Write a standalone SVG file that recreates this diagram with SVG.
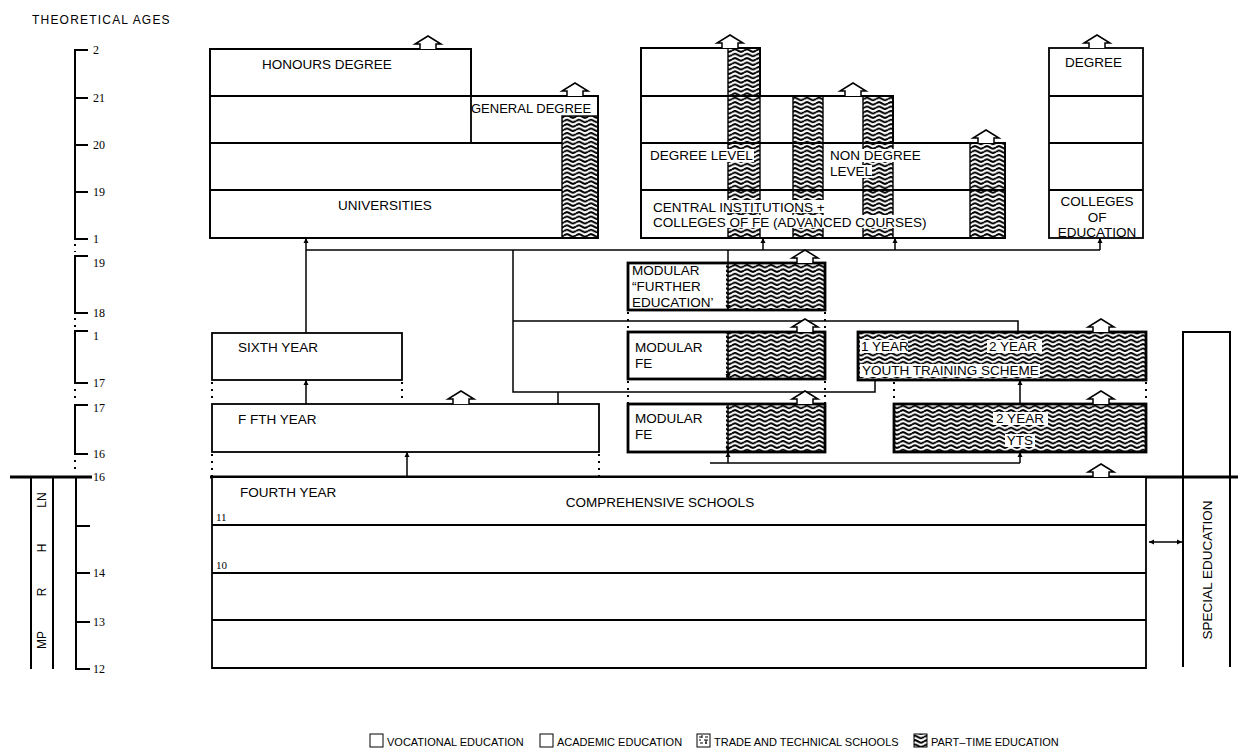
<svg xmlns="http://www.w3.org/2000/svg" xmlns:xlink="http://www.w3.org/1999/xlink" width="1238" height="748" viewBox="0 0 1238 748">
<style>
.b{fill:#fff;stroke:#000;stroke-width:1.8}
.bt{fill:#fff;stroke:#000;stroke-width:2.8}
.ln{stroke:#000;stroke-width:1.5;fill:none}
.lt{stroke:#000;stroke-width:2;fill:none}
.dt{stroke:#000;stroke-width:2;stroke-dasharray:2 5;fill:none}
.h{fill:url(#wave)}
.hc{fill:url(#wave);stroke:#000;stroke-width:1.4}
.t{font-family:"Liberation Sans",Arial,sans-serif;font-size:13.5px;fill:#000}
.s{font-family:"Liberation Sans",Arial,sans-serif;font-size:11px;fill:#000}
.lg{font-family:"Liberation Sans",Arial,sans-serif;font-size:11px;fill:#000}
.ax{font-family:"Liberation Serif","Times New Roman",serif;font-size:12px;fill:#000}
.wb{fill:#fff}
</style>
<defs>
<pattern id="wave" patternUnits="userSpaceOnUse" width="12" height="4.4">
<rect width="12" height="4.4" fill="#fff"/>
<path d="M0,2.2 C3,0.5 3,0.5 6,2.2 S9,3.9 12,2.2" stroke="#000" stroke-width="2" fill="none"/>
</pattern>
<marker id="ah" viewBox="0 0 10 10" refX="10" refY="5" markerWidth="5" markerHeight="6" orient="auto" markerUnits="userSpaceOnUse">
<path d="M0,0 L10,5 L0,10 z" fill="#000"/>
</marker>
<marker id="ahs" viewBox="0 0 10 10" refX="0" refY="5" markerWidth="5" markerHeight="6" orient="auto" markerUnits="userSpaceOnUse">
<path d="M10,0 L0,5 L10,10 z" fill="#000"/>
</marker>
<g id="ha"><path d="M-8,0 V-5 H-13 L0,-13 L13,-5 H8 V0" fill="#fff" stroke="#000" stroke-width="1.5"/></g>
</defs>
<rect width="1238" height="748" fill="#fff"/>

<g id="axis">
<text class="s" x="32" y="24" style="font-size:12px;letter-spacing:1.2px">THEORETICAL AGES</text>
<path class="lt" d="M88,50 H75 V239 H88 M75,98 H88 M75,145 H88 M75,192 H88"/>
<path class="lt" d="M88,256 H75 V313 H88"/>
<path class="lt" d="M88,331 H75 V383 H88"/>
<path class="lt" d="M88,405 H75 V454 H88"/>
<path class="dt" d="M75,244 V252 M75,318 V327 M75,389 V400 M75,460 V470"/>
<text class="ax" x="93" y="54">2</text>
<text class="ax" x="93" y="102">21</text>
<text class="ax" x="93" y="149">20</text>
<text class="ax" x="93" y="196">19</text>
<text class="ax" x="93" y="243">1</text>
<text class="ax" x="93" y="267">19</text>
<text class="ax" x="93" y="317">18</text>
<text class="ax" x="93" y="340">1</text>
<text class="ax" x="93" y="387">17</text>
<text class="ax" x="93" y="412">17</text>
<text class="ax" x="93" y="458">16</text>
<text class="ax" x="93" y="481">16</text>
<path d="M10,477 H92 M210,477 H1238" stroke="#000" stroke-width="3.2"/>
<path class="lt" d="M31,478 V669 M53,478 V669 M76,478 V669 H90 M76,526 H90 M76,573 H90 M76,622 H90"/>
<text class="ax" x="93" y="577">14</text>
<text class="ax" x="93" y="626">13</text>
<text class="ax" x="93" y="673">12</text>
<text class="s" transform="translate(46,500) rotate(-90)" text-anchor="middle" style="font-size:12px">LN</text>
<text class="s" transform="translate(46,548) rotate(-90)" text-anchor="middle" style="font-size:12px">H</text>
<text class="s" transform="translate(46,592) rotate(-90)" text-anchor="middle" style="font-size:12px">R</text>
<text class="s" transform="translate(46,640) rotate(-90)" text-anchor="middle" style="font-size:12px">MP</text>
</g>

<g id="universities">
<path class="b" d="M210,49 H471 V96 H598 V238 H210 Z"/>
<rect class="hc" x="562" y="116" width="36" height="122"/>
<path class="b" style="fill:none" d="M210,49 H471 V96 H598 V238 H210 Z M210,96 H471 M471,96 V143 M210,143 H562 M210,190 H562"/>
<text class="t" x="262" y="69">HONOURS DEGREE</text>
<text class="t" x="471" y="113" style="font-size:13px">GENERAL DEGREE</text>
<text class="t" x="385" y="210" text-anchor="middle">UNIVERSITIES</text>
</g>

<g id="central-institutions">
<path class="b" d="M641,48 H760 V96 H893 V143 H1005 V238 H641 Z"/>
<rect class="hc" x="728" y="48" width="32" height="190"/>
<rect class="hc" x="793" y="96" width="30" height="142"/>
<rect class="hc" x="863" y="96" width="30" height="142"/>
<rect class="hc" x="970" y="143" width="35" height="95"/>
<path class="b" style="fill:none" d="M641,48 H760 V96 H893 V143 H1005 V238 H641 Z M641,96 H760 M641,143 H893 M641,190 H1005"/>
<rect class="wb" x="648" y="149" width="106" height="13"/>
<rect class="wb" x="828" y="149" width="94" height="13"/>
<rect class="wb" x="828" y="165" width="44" height="13"/>
<rect class="wb" x="651" y="200" width="193" height="13"/>
<rect class="wb" x="651" y="215" width="292" height="13"/>
<text class="t" x="650" y="160">DEGREE LEVEL</text>
<text class="t" x="830" y="160">NON DEGREE</text>
<text class="t" x="830" y="176">LEVEL</text>
<text class="t" x="653" y="212">CENTRAL INSTITUTIONS +</text>
<text class="t" x="653" y="227">COLLEGES OF FE (ADVANCED COURSES)</text>
</g>

<g id="colleges-of-education">
<rect class="b" x="1049" y="48" width="94" height="190"/>
<path class="b" style="fill:none" d="M1049,96 H1143 M1049,143 H1143 M1049,190 H1143"/>
<text class="t" x="1065" y="67">DEGREE</text>
<text class="t" x="1097" y="206" text-anchor="middle">COLLEGES</text>
<text class="t" x="1097" y="222" text-anchor="middle">OF</text>
<text class="t" x="1097" y="237" text-anchor="middle">EDUCATION</text>
</g>

<g id="sixth-year">
<rect class="b" x="212" y="333" width="190" height="47"/>
<text class="t" x="238" y="352">SIXTH YEAR</text>
</g>

<g id="fifth-year">
<rect class="b" x="212" y="404" width="387" height="48"/>
<text class="t" x="238" y="424">F FTH YEAR</text>
</g>

<g id="modular-further">
<rect class="h" x="726" y="263" width="99" height="47"/>
<rect class="bt" style="fill:none" x="628" y="263" width="197" height="47"/>
<text class="t" x="632" y="275">MODULAR</text>
<text class="t" x="632" y="291">“FURTHER</text>
<text class="t" x="632" y="307">EDUCATION’</text>
</g>

<g id="modular-fe-1">
<rect class="h" x="726" y="332" width="99" height="47"/>
<rect class="bt" style="fill:none" x="628" y="332" width="197" height="47"/>
<text class="t" x="635" y="352">MODULAR</text>
<text class="t" x="635" y="368">FE</text>
</g>

<g id="modular-fe-2">
<rect class="h" x="726" y="404" width="99" height="48"/>
<rect class="bt" style="fill:none" x="628" y="404" width="197" height="48"/>
<text class="t" x="635" y="423">MODULAR</text>
<text class="t" x="635" y="439">FE</text>
</g>

<g id="yts-1-2-year">
<rect class="h" x="858" y="332" width="288" height="48"/>
<rect class="bt" style="fill:none" x="858" y="332" width="288" height="48"/>
<rect class="wb" x="860" y="340" width="48" height="13"/>
<rect class="wb" x="987" y="340" width="55" height="13"/>
<rect class="wb" x="860" y="364" width="180" height="13"/>
<text class="t" x="861" y="351">1 YEAR</text>
<text class="t" x="989" y="351">2 YEAR</text>
<text class="t" x="862" y="375">YOUTH TRAINING SCHEME</text>
</g>

<g id="yts-2-year">
<rect class="h" x="894" y="404" width="252" height="48"/>
<rect class="bt" style="fill:none" x="894" y="404" width="252" height="48"/>
<rect class="wb" x="993" y="412" width="55" height="13"/>
<rect class="wb" x="1005" y="434" width="30" height="13"/>
<text class="t" x="1020" y="423" text-anchor="middle">2 YEAR</text>
<text class="t" x="1020" y="445" text-anchor="middle">YTS</text>
</g>

<g id="comprehensive-schools">
<path class="b" d="M212,478 V668 H1146 V478"/>
<path class="b" style="fill:none" d="M212,525 H1146 M212,573 H1146 M212,620 H1146"/>
<text class="t" x="240" y="497">FOURTH YEAR</text>
<text class="t" x="660" y="507" text-anchor="middle">COMPREHENSIVE SCHOOLS</text>
<text class="ax" x="216" y="521" style="font-size:11px">11</text>
<text class="ax" x="216" y="569" style="font-size:11px">10</text>
</g>

<g id="special-education">
<path class="lt" d="M1183,667 V332 H1230 V667"/>
<text class="t" transform="translate(1212,570) rotate(-90)" text-anchor="middle">SPECIAL EDUCATION</text>
</g>

<g id="connectors">
<path class="ln" d="M306,250 H1100"/>
<path class="ln" d="M306,333 V238" marker-end="url(#ah)"/>
<path class="ln" d="M763,250 V238" marker-end="url(#ah)"/>
<path class="ln" d="M895,250 V238" marker-end="url(#ah)"/>
<path class="ln" d="M1100,250 V238" marker-end="url(#ah)"/>
<path class="ln" d="M513,250 V392 H875 V380"/>
<path class="ln" d="M513,321 H1018 V332"/>
<path class="ln" d="M558,392 V404"/>
<path class="ln" d="M728,250 V310" marker-end="url(#ah)"/>
<path class="ln" d="M728,332 V379" marker-end="url(#ah)"/>
<path class="ln" d="M728,404 V452" marker-end="url(#ah)"/>
<path class="ln" d="M728,463 V452" marker-end="url(#ah)"/>
<path class="ln" d="M710,463 H1020"/>
<path class="ln" d="M1020,463 V452" marker-end="url(#ah)"/>
<path class="ln" d="M1020,404 V380" marker-end="url(#ah)"/>
<path class="ln" d="M306,404 V380" marker-end="url(#ah)"/>
<path class="ln" d="M407,477 V452" marker-end="url(#ah)"/>
<path class="ln" d="M1149,542 H1182" marker-start="url(#ahs)" marker-end="url(#ah)"/>
<path class="dt" d="M212,382 V403 M402,382 V403 M212,454 V476 M599,454 V476"/>
<path class="dt" d="M628,312 V331 M825,312 V331 M628,381 V403 M825,381 V403"/>
<path class="dt" d="M894,382 V403 M1146,382 V403"/>
<use xlink:href="#ha" x="428" y="49"/>
<use xlink:href="#ha" x="575" y="96"/>
<use xlink:href="#ha" x="730" y="48"/>
<use xlink:href="#ha" x="853" y="96"/>
<use xlink:href="#ha" x="986" y="143"/>
<use xlink:href="#ha" x="1097" y="48"/>
<use xlink:href="#ha" x="805" y="263"/>
<use xlink:href="#ha" x="805" y="332"/>
<use xlink:href="#ha" x="805" y="404"/>
<use xlink:href="#ha" x="1101" y="332"/>
<use xlink:href="#ha" x="1101" y="404"/>
<use xlink:href="#ha" x="1101" y="477"/>
<use xlink:href="#ha" x="461" y="404"/>
</g>

<g id="legend">
<rect x="370" y="734" width="13" height="13" fill="#fff" stroke="#000" stroke-width="1"/>
<text class="lg" x="387" y="746">VOCATIONAL EDUCATION</text>
<rect x="540" y="734" width="13" height="13" fill="#fff" stroke="#000" stroke-width="1"/>
<text class="lg" x="557" y="746">ACADEMIC EDUCATION</text>
<rect x="697" y="734" width="13" height="13" fill="#fff" stroke="#000" stroke-width="1"/>
<path d="M699,737 h3 M705,737 h3 M699,740 h2 M704,740 h4 M700,743 h3 M705,743 h2 M702,735 v3 M706,740 v4" stroke="#000" stroke-width="1"/>
<text class="lg" x="714" y="746">TRADE AND TECHNICAL SCHOOLS</text>
<rect x="914" y="734" width="13" height="13" fill="url(#wave)" stroke="#000" stroke-width="1"/>
<text class="lg" x="931" y="746">PART–TIME EDUCATION</text>
</g>
</svg>
